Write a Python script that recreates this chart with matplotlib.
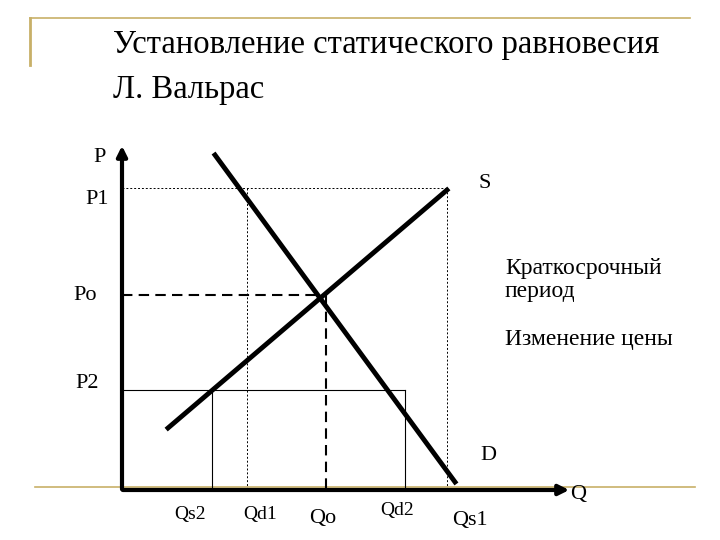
import matplotlib.pyplot as plt

plt.rcParams['font.family'] = ['Liberation Serif', 'DejaVu Serif']

# chart data (in picture units, origin at axis corner, y up)
supply_q = [46, 325]
supply_p = [62, 300]
demand_q = [93, 333]
demand_p = [335, 8]
eq_q, eq_p = 204, 195
price_levels = {"P1": 302, "Po": 195, "P2": 100}
q_p1 = [125, 325]       # Qd1, Qs1 at P1
q_p2 = [90, 283]        # Qs2, Qd2 at P2
q_labels = ["Qs2", "Qd1", "Qo", "Qd2", "Qs1"]
q_label_x = [68, 138, 201, 275, 348]
q_label_y = [-25, -25, -28, -20, -30]

X0, Y0 = 122, 490  # pixel of origin

def px(q):
    return X0 + q

def py(p):
    return Y0 - p

fig = plt.figure(figsize=(7.2, 5.4), dpi=100)
ax = fig.add_axes([0, 0, 1, 1])
ax.set_xlim(0, 720)
ax.set_ylim(540, 0)
ax.axis('off')

gold = '#c8b068'
ax.plot([30, 30], [18, 65], color=gold, lw=2)
ax.plot([30, 690], [18, 18], color=gold, lw=1.2)
ax.plot([35, 695], [487, 487], color=gold, lw=1.2)

ax.text(113, 45, "Установление статического равновесия", fontsize=23.5, va='center')
ax.text(113, 90, "Л. Вальрас", fontsize=23.5, va='center')

# axes
ax.annotate('', xy=(X0, 143), xytext=(X0, Y0 + 2),
            arrowprops=dict(arrowstyle='-|>', color='black', lw=3, mutation_scale=15))
ax.annotate('', xy=(572, Y0), xytext=(X0 - 2, Y0),
            arrowprops=dict(arrowstyle='-|>', color='black', lw=3, mutation_scale=15))

# supply and demand
ax.plot([px(q) for q in supply_q], [py(p) for p in supply_p], color='black', lw=3.5)
ax.plot([px(q) for q in demand_q], [py(p) for p in demand_p], color='black', lw=3.5)

# P1 guides
p1 = price_levels["P1"]
ax.plot([X0, px(q_p1[1])], [py(p1)] * 2, color='black', lw=0.7, ls=(0, (2, 2)))
for q in q_p1:
    ax.plot([px(q)] * 2, [py(p1), Y0], color='black', lw=0.7, ls=(0, (2, 2)))
# equilibrium
ax.plot([X0, px(eq_q)], [py(eq_p)] * 2, color='black', lw=1.5, ls=(0, (5, 3)))
ax.plot([px(eq_q)] * 2, [py(eq_p), Y0], color='black', lw=1.5, ls=(0, (5, 3)))
# P2 guides
p2 = price_levels["P2"]
ax.plot([X0, px(q_p2[1])], [py(p2)] * 2, color='black', lw=0.8)
for q in q_p2:
    ax.plot([px(q)] * 2, [py(p2), Y0], color='black', lw=0.8)

fs = 16
ax.text(100, 158, "P", fontsize=fs, ha='center', va='center')
ax.text(97, 200, "P1", fontsize=fs, ha='center', va='center')
ax.text(85, 295, "Po", fontsize=fs, ha='center', va='center')
ax.text(87, 383, "P2", fontsize=fs, ha='center', va='center')
ax.text(485, 183, "S", fontsize=fs, ha='center', va='center')
ax.text(488, 455, "D", fontsize=fs, ha='center', va='center')
ax.text(578, 495, "Q", fontsize=fs, ha='center', va='center')
for lab, x, y in zip(q_labels, q_label_x, q_label_y):
    ax.text(px(x), py(y), lab, fontsize=fs if lab in ("Qo", "Qs1") else 14,
            ha='center', va='center')

ax.text(505, 280, "Краткосрочный\nпериод", fontsize=17, va='center', linespacing=1.1)
ax.text(505, 340, "Изменение цены", fontsize=17, va='center')

fig.savefig('out.png')
